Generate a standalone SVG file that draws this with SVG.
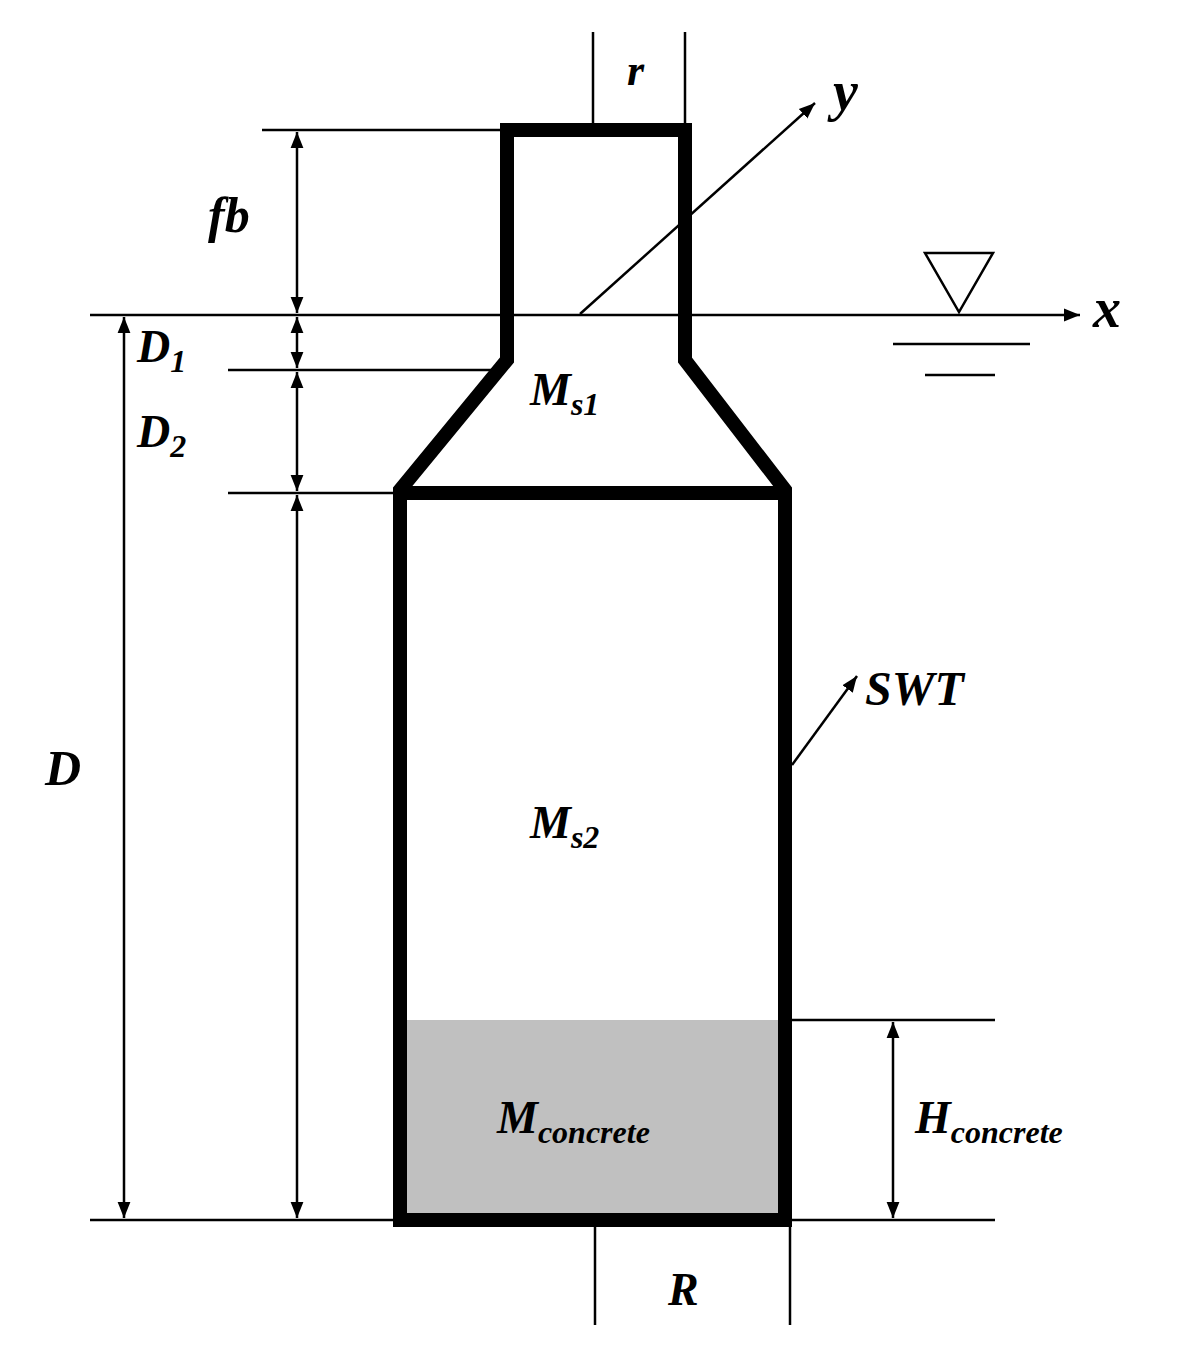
<svg xmlns="http://www.w3.org/2000/svg" width="1202" height="1355" viewBox="0 0 1202 1355">
<style>
.t{font-family:"Liberation Serif",serif;font-style:italic;font-weight:bold;fill:#000}
.l{stroke:#000;stroke-width:2.5;fill:none}
.w{stroke:#000;stroke-width:14;fill:none;stroke-linejoin:miter}
</style>
<defs>
<marker id="a" viewBox="0 0 10 10" refX="10" refY="5" markerWidth="8" markerHeight="8" markerUnits="userSpaceOnUse" orient="auto-start-reverse"><path d="M0,0L10,5L0,10z"/></marker>
<marker id="b" viewBox="0 0 10 10" refX="10" refY="5" markerWidth="16" markerHeight="16" markerUnits="userSpaceOnUse" orient="auto-start-reverse"><path d="M0,1L10,5L0,9z"/></marker>
</defs>
<rect width="1202" height="1355" fill="#fff"/>
<rect x="407" y="1020" width="371" height="194" fill="#c0c0c0"/>
<g id="structure">
<path class="w" d="M507,360 L507,130 L685,130 L685,360 L785,490 L785,1220 L400,1220 L400,490 Z M400,493 L785,493"/>
</g>
<g id="lines">
<line class="l" x1="262" y1="130" x2="507" y2="130"/>
<line class="l" x1="90" y1="315" x2="1080" y2="315" marker-end="url(#b)"/>
<line class="l" x1="228" y1="370" x2="500" y2="370"/>
<line class="l" x1="228" y1="493" x2="400" y2="493"/>
<line class="l" x1="90" y1="1220" x2="995" y2="1220"/>
<line class="l" x1="785" y1="1020" x2="995" y2="1020"/>
<line class="l" x1="593" y1="32" x2="593" y2="126"/>
<line class="l" x1="685" y1="32" x2="685" y2="126"/>
<line class="l" x1="595" y1="1226" x2="595" y2="1325"/>
<line class="l" x1="790" y1="1226" x2="790" y2="1325"/>
<line class="l" x1="297" y1="132" x2="297" y2="313" marker-start="url(#b)" marker-end="url(#b)"/>
<line class="l" x1="297" y1="317" x2="297" y2="368" marker-start="url(#b)" marker-end="url(#b)"/>
<line class="l" x1="297" y1="372" x2="297" y2="491" marker-start="url(#b)" marker-end="url(#b)"/>
<line class="l" x1="297" y1="495" x2="297" y2="1218" marker-start="url(#b)" marker-end="url(#b)"/>
<line class="l" x1="124" y1="317" x2="124" y2="1218" marker-start="url(#b)" marker-end="url(#b)"/>
<line class="l" x1="893" y1="1022" x2="893" y2="1218" marker-start="url(#b)" marker-end="url(#b)"/>
<line class="l" x1="580" y1="314" x2="815" y2="103" marker-end="url(#b)"/>
<line class="l" x1="792" y1="765" x2="857" y2="676" marker-end="url(#b)"/>
<path class="l" d="M925,253 L993,253 L959,312 Z"/>
<line class="l" x1="893" y1="344" x2="1030" y2="344"/>
<line class="l" x1="925" y1="375" x2="995" y2="375"/>
</g>
<g id="labels">
<text class="t" x="208" y="232" font-size="50">fb</text>
<text class="t" x="137" y="362" font-size="46">D<tspan font-size="32" dy="10">1</tspan></text>
<text class="t" x="137" y="447" font-size="46">D<tspan font-size="32" dy="10">2</tspan></text>
<text class="t" x="45" y="785" font-size="50">D</text>
<text class="t" x="530" y="405" font-size="46">M<tspan font-size="32" dy="10">s1</tspan></text>
<text class="t" x="530" y="838" font-size="46">M<tspan font-size="32" dy="10">s2</tspan></text>
<text class="t" x="497" y="1133" font-size="46">M<tspan font-size="32" dy="10">concrete</tspan></text>
<text class="t" x="915" y="1133" font-size="46">H<tspan font-size="32" dy="10">concrete</tspan></text>
<text class="t" x="668" y="1305" font-size="46">R</text>
<text class="t" x="627" y="85" font-size="44">r</text>
<text class="t" x="833" y="110" font-size="56">y</text>
<text class="t" x="1093" y="327" font-size="56">x</text>
<text class="t" x="865" y="705" font-size="48">SWT</text>
</g>
</svg>
